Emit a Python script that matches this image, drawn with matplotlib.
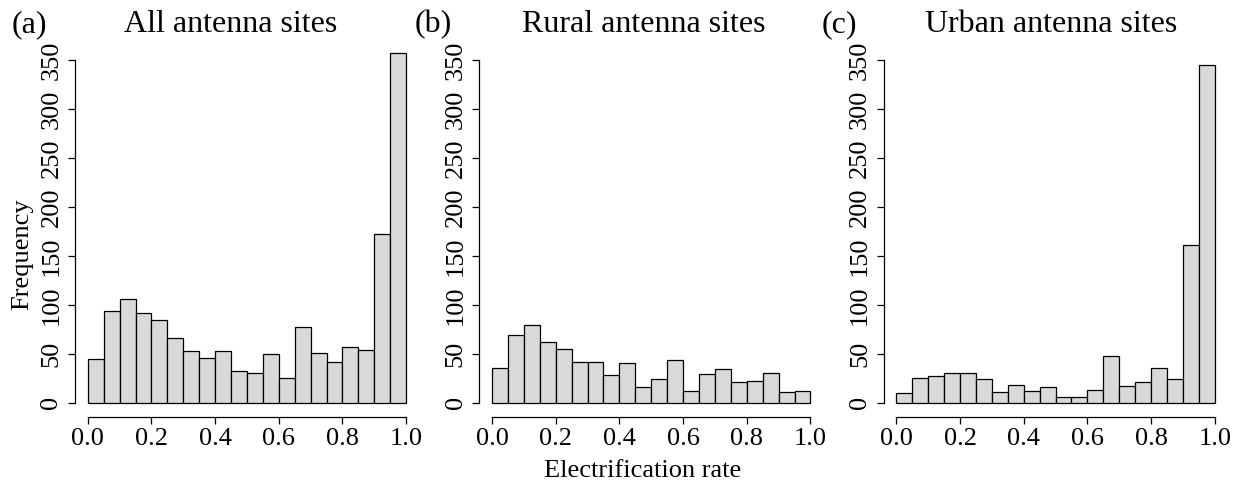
import numpy as np
import matplotlib
matplotlib.use("Agg")
import matplotlib.pyplot as plt

plt.rcParams['font.family'] = ['Liberation Serif', 'DejaVu Serif']

# histogram bins: 20 bins of width 0.05 on [0, 1]
bin_edges = np.linspace(0, 1, 21)

all_counts = [45, 94, 106, 92, 85, 66, 53, 46, 53, 32,
              30, 50, 25, 77, 51, 42, 57, 54, 172, 357]
rural_counts = [35, 69, 79, 62, 55, 42, 42, 28, 41, 16,
                24, 44, 12, 29, 34, 21, 22, 30, 11, 12]
urban_counts = [10, 25, 27, 30, 30, 24, 11, 18, 12, 16,
                6, 6, 13, 48, 17, 21, 35, 24, 161, 345]

titles = ["All antenna sites", "Rural antenna sites", "Urban antenna sites"]
tags = ["(a)", "(b)", "(c)"]
x_ticks = [0.0, 0.2, 0.4, 0.6, 0.8, 1.0]
y_ticks = [0, 50, 100, 150, 200, 250, 300, 350]

W, H = 1239, 484
fig = plt.figure(figsize=(W / 100, H / 100), dpi=100)

lefts = [75.0, 479.3, 883.6]
ax_w = 343.9
ax_bottom = 67.3
ax_h = 377.2
title_x = [231, 644, 1051]
tag_x = [12, 415, 822]

for i, counts in enumerate([all_counts, rural_counts, urban_counts]):
    ax = fig.add_axes([lefts[i] / W, ax_bottom / H, ax_w / W, ax_h / H])
    ax.bar(bin_edges[:-1], counts, width=0.05, align='edge',
           color='#d9d9d9', edgecolor='black', linewidth=0.9)
    ax.set_xlim(-0.04, 1.04)
    ax.set_ylim(-14.3, 371.3)
    for s in ['top', 'right']:
        ax.spines[s].set_visible(False)
    ax.spines['left'].set_bounds(0, 350)
    ax.spines['bottom'].set_bounds(0, 1)
    ax.spines['left'].set_linewidth(0.9)
    ax.spines['bottom'].set_linewidth(0.9)
    ax.set_xticks(x_ticks)
    ax.set_xticklabels([f"{t:.1f}" for t in x_ticks])
    ax.set_yticks(y_ticks)
    ax.set_yticklabels([str(t) for t in y_ticks], rotation=90, va='center')
    ax.tick_params(axis='both', labelsize=19, length=5, width=0.9)
    ax.tick_params(axis='x', pad=3)
    ax.tick_params(axis='y', pad=4)

    fig.text(title_x[i] / W, (H - 32) / H, titles[i], fontsize=23,
             ha='center', va='baseline')
    fig.text(tag_x[i] / W, (H - 32) / H, tags[i], fontsize=23,
             ha='left', va='baseline')

fig.text(22 / W, 230 / H, "Frequency", fontsize=19, rotation=90,
         ha='center', va='center')
fig.text(642.5 / W, (H - 477) / H, "Electrification rate", fontsize=19,
         ha='center', va='baseline')

fig.savefig("out.png", dpi=100)
